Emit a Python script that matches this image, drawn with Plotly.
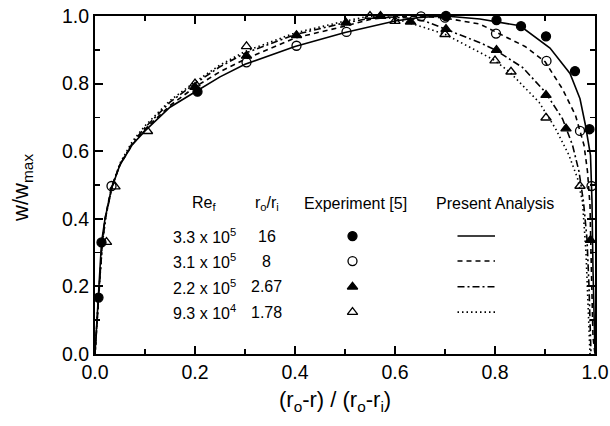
import plotly.graph_objects as go

# ---------------- data ----------------
# Experiment [5] points
exp1_x = [0.007, 0.013, 0.205, 0.702, 0.803, 0.852, 0.902, 0.960, 0.989]
exp1_y = [0.167, 0.330, 0.776, 1.000, 0.988, 0.970, 0.940, 0.837, 0.665]

exp2_x = [0.033, 0.303, 0.403, 0.503, 0.652, 0.700, 0.802, 0.903, 0.970, 0.993]
exp2_y = [0.497, 0.863, 0.912, 0.953, 0.999, 0.995, 0.948, 0.867, 0.660, 0.497]

exp3_x = [0.200, 0.303, 0.403, 0.502, 0.571, 0.631, 0.702, 0.803, 0.902, 0.942, 0.991]
exp3_y = [0.790, 0.882, 0.943, 0.980, 1.000, 0.983, 0.961, 0.899, 0.766, 0.667, 0.337]

exp4_x = [0.023, 0.040, 0.105, 0.200, 0.303, 0.550, 0.600, 0.700, 0.800, 0.832, 0.902, 0.970]
exp4_y = [0.331, 0.495, 0.659, 0.800, 0.910, 1.000, 0.985, 0.946, 0.868, 0.835, 0.699, 0.497]

# Present analysis curves
ana1_x = [0, 0.003, 0.007, 0.013, 0.02, 0.033, 0.05, 0.075, 0.1, 0.15, 0.2, 0.25, 0.3, 0.4, 0.5,
          0.6, 0.65, 0.7, 0.77, 0.85, 0.91, 0.95, 0.97, 0.981, 0.991, 0.994, 0.996, 0.998, 1.0]
ana1_y = [0, 0.08, 0.17, 0.33, 0.40, 0.49, 0.56, 0.62, 0.66, 0.73, 0.775, 0.82, 0.857, 0.91, 0.951,
          0.985, 0.996, 1.0, 0.991, 0.971, 0.905, 0.83, 0.755, 0.676, 0.588, 0.45, 0.25, 0.08, 0]

ana2_x = [0, 0.003, 0.008, 0.014, 0.02, 0.033, 0.05, 0.075, 0.1, 0.15, 0.2, 0.25, 0.3, 0.4, 0.5,
          0.55, 0.6, 0.65, 0.7, 0.77, 0.81, 0.86, 0.9, 0.935, 0.961, 0.978, 0.985, 0.99, 0.992,
          0.994, 0.996, 1.0]
ana2_y = [0, 0.08, 0.18, 0.33, 0.40, 0.495, 0.56, 0.62, 0.665, 0.735, 0.79, 0.835, 0.872, 0.935, 0.97,
          0.99, 0.998, 1.0, 0.994, 0.976, 0.946, 0.91, 0.865, 0.784, 0.706, 0.618, 0.54, 0.44, 0.3,
          0.15, 0.05, 0]

ana3_x = [0, 0.003, 0.008, 0.015, 0.022, 0.035, 0.05, 0.075, 0.1, 0.15, 0.2, 0.25, 0.3, 0.4, 0.5,
          0.57, 0.62, 0.66, 0.7, 0.77, 0.8, 0.855, 0.9, 0.935, 0.955, 0.968, 0.977, 0.984, 0.988,
          0.99, 0.992]
ana3_y = [0, 0.08, 0.19, 0.33, 0.41, 0.50, 0.56, 0.625, 0.67, 0.745, 0.80, 0.85, 0.89, 0.945, 0.98,
          0.998, 0.995, 0.985, 0.962, 0.921, 0.90, 0.848, 0.776, 0.696, 0.618, 0.54, 0.45, 0.34, 0.2,
          0.08, 0]

ana4_x = [0, 0.003, 0.008, 0.015, 0.022, 0.035, 0.05, 0.075, 0.1, 0.15, 0.2, 0.25, 0.3, 0.4, 0.5,
          0.55, 0.6, 0.65, 0.7, 0.77, 0.8, 0.83, 0.888, 0.921, 0.948, 0.965, 0.975, 0.982, 0.986,
          0.988, 0.99]
ana4_y = [0, 0.08, 0.19, 0.33, 0.41, 0.50, 0.565, 0.63, 0.675, 0.75, 0.805, 0.855, 0.895, 0.95, 0.985,
          1.0, 0.992, 0.97, 0.946, 0.892, 0.868, 0.833, 0.745, 0.667, 0.588, 0.52, 0.45, 0.3, 0.15,
          0.03, 0]

re_labels = ["3.3 x 10<sup>5</sup>", "3.1 x 10<sup>5</sup>", "2.2 x 10<sup>5</sup>", "9.3 x 10<sup>4</sup>"]
ratio_labels = ["16", "8", "2.67", "1.78"]

# ---------------- styles ----------------
FONT = "Liberation Sans, Arial, sans-serif"
symbols = ["circle", "circle-open", "triangle-up", "triangle-up-open"]
dashes = ["solid", "5px,4px", "7px,3px,2px,3px", "1.5px,3px"]

# legend-table layout (data coords, plot spans 0..1)
leg_rows_y = [0.349, 0.275, 0.199, 0.124]
leg_head_y = 0.444
col_re, col_ratio, col_exp, col_line0, col_line1, col_ana = 0.218, 0.343, 0.515, 0.725, 0.80, 0.80

fig = go.Figure()

exp_x = [exp1_x, exp2_x, exp3_x, exp4_x]
exp_y = [exp1_y, exp2_y, exp3_y, exp4_y]
ana_x = [ana1_x, ana2_x, ana3_x, ana4_x]
ana_y = [ana1_y, ana2_y, ana3_y, ana4_y]

for i in range(4):
    fig.add_trace(go.Scatter(x=ana_x[i], y=ana_y[i], mode="lines",
                             line=dict(color="black", width=1.6, dash=dashes[i]),
                             hoverinfo="skip", cliponaxis=True))
for i in range(4):
    fig.add_trace(go.Scatter(x=exp_x[i], y=exp_y[i], mode="markers",
                             marker=dict(symbol=symbols[i], size=9, color="black",
                                         line=dict(color="black", width=1.3)),
                             cliponaxis=False))

# legend table
for i in range(4):
    fig.add_trace(go.Scatter(x=[col_exp], y=[leg_rows_y[i]], mode="markers",
                             marker=dict(symbol=symbols[i], size=9, color="black",
                                         line=dict(color="black", width=1.3))))
    fig.add_trace(go.Scatter(x=[col_line0, col_line1], y=[leg_rows_y[i]] * 2, mode="lines",
                             line=dict(color="black", width=1.6, dash=dashes[i])))
    fig.add_annotation(x=col_re, y=leg_rows_y[i], text=re_labels[i], showarrow=False,
                       font=dict(family=FONT, size=16, color="black"), xanchor="center")
    fig.add_annotation(x=col_ratio, y=leg_rows_y[i], text=ratio_labels[i], showarrow=False,
                       font=dict(family=FONT, size=16, color="black"), xanchor="center")

for xx, txt in [(col_re, "Re<sub>f</sub>"), (col_ratio, "r<sub>o</sub>/r<sub>i</sub>"),
                (col_exp + 0.005, "Experiment [5]"), (col_ana, "Present Analysis")]:
    fig.add_annotation(x=xx, y=leg_head_y, text=txt, showarrow=False,
                       font=dict(family=FONT, size=16, color="black"), xanchor="center")

# axis titles
fig.add_annotation(xref="paper", yref="paper", x=0.48, y=-0.14, yanchor="middle",
                   text="(r<sub>o</sub>-r) / (r<sub>o</sub>-r<sub>i</sub>)", showarrow=False,
                   font=dict(family=FONT, size=22, color="black"))
fig.add_annotation(xref="paper", yref="paper", x=-0.145, y=0.49, xanchor="center", yanchor="middle",
                   text="w/w<sub>max</sub>", textangle=-90, showarrow=False,
                   font=dict(family=FONT, size=22, color="black"))

axis_common = dict(
    showline=True, linecolor="black", linewidth=2, mirror="allticks",
    ticks="inside", ticklen=8, tickwidth=1.8, tickcolor="black",
    showgrid=False, zeroline=False, range=[0, 1], dtick=0.2, tick0=0,
    tickformat=".1f", tickfont=dict(family=FONT, size=19.5, color="black"),
    minor=dict(ticks="inside", ticklen=5, tickwidth=1.5, tickcolor="black", dtick=0.1, showgrid=False),
    automargin=False,
)

fig.update_layout(
    width=610, height=426,
    margin=dict(l=95, r=15, t=16, b=72, autoexpand=False),
    paper_bgcolor="white", plot_bgcolor="white",
    showlegend=False,
    hovermode=False,
    xaxis=dict(**axis_common),
    yaxis=dict(**axis_common),
)

fig.write_html("out.html", config={"displayModeBar": False, "staticPlot": True},
               post_script="document.body.style.margin='0px';")
